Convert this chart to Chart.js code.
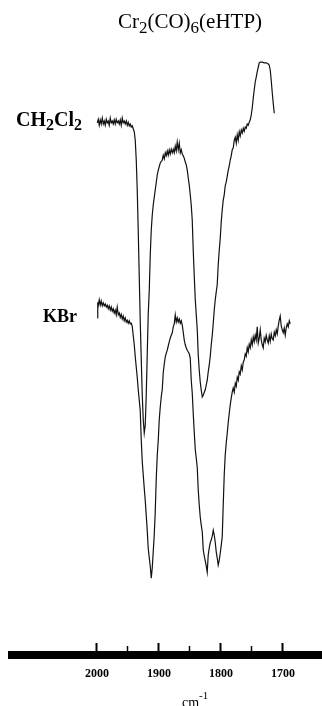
<!DOCTYPE html>
<html>
<head>
<meta charset="utf-8">
<title>Cr2(CO)6(eHTP) IR</title>
<script src="https://cdn.jsdelivr.net/npm/chart.js@4.4.1/dist/chart.umd.min.js"></script>
<style>
  html, body { margin: 0; padding: 0; background: #fff; }
  canvas { display: block; }
</style>
</head>
<body>
<canvas id="irChart" width="322" height="706"></canvas>
<script>
// wavenumber (cm-1) and relative transmittance
const ch2cl2Wavenumber = [1999.5, 1997.9, 1996.3, 1994.7, 1993.1, 1991.4, 1989.8, 1988.2, 1986.6, 1985.0, 1983.4, 1981.8, 1980.2, 1978.5, 1976.9, 1975.3, 1973.7, 1972.1, 1970.5, 1968.9, 1967.3, 1965.6, 1964.0, 1962.4, 1960.8, 1959.2, 1957.6, 1956.0, 1954.4, 1952.7, 1951.1, 1949.5, 1947.9, 1946.3, 1944.7, 1943.1, 1941.5, 1939.8, 1938.2, 1936.6, 1935.0, 1933.4, 1931.8, 1930.2, 1928.5, 1926.9, 1925.3, 1923.7, 1922.1, 1920.5, 1918.9, 1917.3, 1915.6, 1914.0, 1912.4, 1910.8, 1909.2, 1906.0, 1902.7, 1901.1, 1897.9, 1894.7, 1893.1, 1891.4, 1889.8, 1888.2, 1886.6, 1885.0, 1883.4, 1881.8, 1880.1, 1878.5, 1876.9, 1875.3, 1873.7, 1872.1, 1870.5, 1868.9, 1867.2, 1865.6, 1864.0, 1862.4, 1860.8, 1859.2, 1857.6, 1856.0, 1854.3, 1852.7, 1851.1, 1849.5, 1847.9, 1846.3, 1844.7, 1843.1, 1841.4, 1839.8, 1838.2, 1836.6, 1835.0, 1833.4, 1831.8, 1830.1, 1828.5, 1826.9, 1825.3, 1823.7, 1822.1, 1820.5, 1818.9, 1817.3, 1815.6, 1814.0, 1812.4, 1810.8, 1809.2, 1807.6, 1806.0, 1804.4, 1802.7, 1801.1, 1799.5, 1797.9, 1796.3, 1794.7, 1793.1, 1791.5, 1789.8, 1788.2, 1786.6, 1785.0, 1783.4, 1781.8, 1780.2, 1778.5, 1776.9, 1775.3, 1773.7, 1772.1, 1770.5, 1768.9, 1767.2, 1765.6, 1764.0, 1762.4, 1760.8, 1759.2, 1757.6, 1756.0, 1754.4, 1752.7, 1751.1, 1749.5, 1747.9, 1746.3, 1744.7, 1743.1, 1741.5, 1739.8, 1738.2, 1736.6, 1733.4, 1730.2, 1727.0, 1723.7, 1722.1, 1720.5, 1718.9, 1717.3, 1715.7, 1714.0];
const ch2cl2Signal = [88.7, 89.3, 88.3, 89.2, 88.5, 89.5, 88.5, 89.0, 88.3, 89.3, 88.7, 89.0, 88.3, 89.5, 88.7, 89.0, 88.5, 89.2, 88.5, 89.3, 88.7, 89.0, 88.5, 89.2, 88.3, 89.5, 88.7, 89.0, 88.5, 89.0, 88.3, 88.8, 88.2, 88.5, 88.0, 88.2, 87.7, 87.2, 85.8, 82.5, 77.5, 70.8, 63.3, 55.8, 49.2, 43.3, 39.2, 37.0, 38.3, 43.3, 50.0, 56.7, 60.8, 66.7, 70.8, 73.3, 75.0, 77.5, 80.0, 80.8, 82.0, 82.5, 83.3, 82.7, 83.7, 83.2, 84.0, 83.3, 84.2, 83.5, 84.3, 83.7, 84.3, 83.7, 84.8, 84.0, 85.5, 84.2, 85.3, 83.7, 84.2, 83.5, 83.2, 82.8, 82.2, 81.7, 80.8, 79.5, 78.3, 76.7, 75.0, 72.5, 67.5, 63.3, 59.2, 56.7, 54.2, 50.0, 47.5, 45.5, 44.2, 43.0, 43.3, 43.8, 44.2, 45.0, 45.8, 47.2, 48.3, 49.7, 51.7, 53.3, 55.3, 57.5, 59.2, 60.5, 61.7, 65.0, 67.5, 69.5, 72.2, 74.2, 75.8, 76.7, 78.2, 78.8, 79.8, 80.8, 81.5, 82.5, 83.2, 84.2, 84.5, 85.8, 86.3, 85.3, 86.7, 85.8, 87.2, 86.5, 87.5, 87.0, 87.8, 87.3, 88.0, 87.8, 88.5, 88.3, 88.8, 89.2, 90.0, 91.2, 92.8, 94.2, 95.5, 96.3, 97.2, 98.0, 98.7, 98.8, 98.8, 98.7, 98.7, 98.5, 98.3, 97.5, 95.8, 93.8, 92.0, 90.3];

const kbrWavenumber = [1999.5, 1998.7, 1997.9, 1996.3, 1994.7, 1993.1, 1991.4, 1989.8, 1988.2, 1986.6, 1985.0, 1983.4, 1981.8, 1980.2, 1978.5, 1976.9, 1975.3, 1973.7, 1972.1, 1970.5, 1968.9, 1967.3, 1965.6, 1964.0, 1962.4, 1960.8, 1959.2, 1957.6, 1956.0, 1954.4, 1952.7, 1951.1, 1949.5, 1947.9, 1946.3, 1944.7, 1943.1, 1941.5, 1939.8, 1938.2, 1936.6, 1935.0, 1933.4, 1931.8, 1930.2, 1928.5, 1926.9, 1925.3, 1923.7, 1922.1, 1920.5, 1918.9, 1917.3, 1915.6, 1914.0, 1912.4, 1910.8, 1909.2, 1907.6, 1906.0, 1904.3, 1902.7, 1901.1, 1899.5, 1897.9, 1896.3, 1894.7, 1893.1, 1891.4, 1889.8, 1888.2, 1886.6, 1885.0, 1883.4, 1881.8, 1880.1, 1878.5, 1876.9, 1875.3, 1873.7, 1872.1, 1870.5, 1868.9, 1867.2, 1865.6, 1864.0, 1862.4, 1860.8, 1859.2, 1857.6, 1856.0, 1854.3, 1852.7, 1851.1, 1849.5, 1847.9, 1846.3, 1844.7, 1843.1, 1841.4, 1839.8, 1838.2, 1836.6, 1835.0, 1833.4, 1831.8, 1830.1, 1828.5, 1826.9, 1825.3, 1823.7, 1822.1, 1820.5, 1818.9, 1817.3, 1815.6, 1814.0, 1812.4, 1810.8, 1809.2, 1807.6, 1806.0, 1804.4, 1802.7, 1801.1, 1799.5, 1797.9, 1796.3, 1794.7, 1793.1, 1791.5, 1789.8, 1788.2, 1786.6, 1785.0, 1783.4, 1781.8, 1780.2, 1778.5, 1776.9, 1775.3, 1773.7, 1772.1, 1770.5, 1768.9, 1767.2, 1765.6, 1764.0, 1762.4, 1760.8, 1759.2, 1757.6, 1756.0, 1754.4, 1752.7, 1751.1, 1749.5, 1747.9, 1746.3, 1744.7, 1743.1, 1741.5, 1739.8, 1738.2, 1736.6, 1735.0, 1733.4, 1731.8, 1730.2, 1728.6, 1727.0, 1725.3, 1723.7, 1722.1, 1720.5, 1718.9, 1717.3, 1715.7, 1714.0, 1712.4, 1710.8, 1709.2, 1707.6, 1706.0, 1704.4, 1702.7, 1701.1, 1699.5, 1697.9, 1696.3, 1694.7, 1693.1, 1691.4, 1689.8, 1688.2];
const kbrSignal = [56.2, 58.8, 58.2, 59.2, 58.3, 59.0, 58.2, 58.7, 58.2, 58.5, 58.0, 58.3, 57.7, 58.2, 57.5, 58.0, 57.3, 57.7, 57.0, 57.5, 56.7, 58.0, 56.7, 57.0, 56.3, 56.8, 56.0, 56.5, 55.7, 56.2, 55.5, 55.8, 55.3, 55.7, 55.2, 55.3, 54.8, 53.3, 51.7, 49.7, 48.0, 46.3, 44.2, 42.5, 40.8, 35.8, 32.2, 30.0, 27.8, 25.8, 23.3, 20.8, 17.8, 16.2, 14.8, 12.8, 14.5, 17.2, 20.0, 23.7, 29.5, 33.3, 35.8, 39.2, 41.3, 43.0, 44.2, 47.0, 48.5, 49.7, 50.3, 50.8, 51.5, 52.2, 52.8, 53.3, 53.7, 54.7, 55.2, 56.7, 55.5, 56.2, 55.5, 56.0, 55.3, 55.7, 55.0, 53.8, 52.5, 51.7, 51.2, 50.8, 50.5, 50.2, 49.5, 45.8, 43.7, 40.3, 37.2, 34.2, 32.8, 31.2, 27.5, 25.0, 23.0, 21.7, 20.5, 17.5, 16.5, 15.7, 14.8, 13.8, 16.7, 17.8, 18.7, 19.2, 19.8, 20.8, 20.0, 18.8, 17.2, 16.2, 15.0, 15.8, 17.0, 18.3, 19.7, 25.0, 30.0, 33.3, 35.3, 37.0, 38.8, 40.3, 41.7, 42.8, 43.8, 44.5, 43.8, 45.3, 44.8, 46.3, 45.8, 47.2, 46.8, 48.2, 47.5, 48.8, 49.2, 50.2, 49.8, 51.2, 50.5, 51.8, 51.2, 52.5, 51.7, 53.0, 52.2, 53.3, 52.5, 54.7, 52.0, 52.8, 54.2, 52.5, 51.7, 51.2, 52.8, 52.2, 53.3, 52.5, 52.0, 53.2, 52.3, 53.5, 52.7, 52.5, 53.8, 53.2, 54.2, 53.5, 54.8, 55.8, 56.5, 54.8, 54.2, 53.7, 54.5, 53.3, 54.5, 55.2, 54.7, 55.7, 55.2];

const tickValues = [2000, 1950, 1900, 1850, 1800, 1750, 1700];
const tickLabels = ['2000', '', '1900', '', '1800', '', '1700'];

const SERIF = '"Liberation Serif", "Times New Roman", serif';

function toPoints(xs, ys) {
    return xs.map((x, i) => ({ x: x, y: ys[i] }));
}

// draws text made of parts; shift > 0 lowers (subscript), < 0 raises (superscript)
function drawParts(ctx, parts, x, y, size, weight, align) {
    const fontFor = p => weight + ' ' + (p.shift ? Math.round(size * 0.82) : size) + 'px ' + SERIF;
    let total = 0;
    parts.forEach(p => { ctx.font = fontFor(p); total += ctx.measureText(p.t).width; });
    let cx = align === 'center' ? x - total / 2 : x;
    parts.forEach(p => {
        ctx.font = fontFor(p);
        ctx.fillText(p.t, cx, y + (p.shift || 0));
        cx += ctx.measureText(p.t).width;
    });
}

const textPlugin = {
    id: 'figureText',
    afterDraw(chart) {
        const ctx = chart.ctx;
        ctx.save();
        ctx.fillStyle = '#000';
        ctx.textBaseline = 'alphabetic';
        ctx.textAlign = 'left';
        drawParts(ctx, [{ t: 'Cr' }, { t: '2', shift: 5 }, { t: '(CO)' }, { t: '6', shift: 5 }, { t: '(eHTP)' }],
            190, 28, 21, 'normal', 'center');
        drawParts(ctx, [{ t: 'CH' }, { t: '2', shift: 4 }, { t: 'Cl' }, { t: '2', shift: 4 }], 16, 126, 20, 'bold', 'left');
        drawParts(ctx, [{ t: 'KBr' }], 43, 322, 18, 'bold', 'left');
        drawParts(ctx, [{ t: 'cm' }, { t: '-1', shift: -8 }], 182, 707, 14, 'normal', 'left');
        ctx.restore();
    }
};

const ctx = document.getElementById('irChart').getContext('2d');
const irChart = new Chart(ctx, {
    type: 'line',
    data: {
        datasets: [{
            label: 'CH2Cl2',
            data: toPoints(ch2cl2Wavenumber, ch2cl2Signal),
            borderColor: '#111',
            borderWidth: 1.2,
            pointRadius: 0,
            tension: 0
        }, {
            label: 'KBr',
            data: toPoints(kbrWavenumber, kbrSignal),
            borderColor: '#111',
            borderWidth: 1.2,
            pointRadius: 0,
            tension: 0
        }]
    },
    options: {
        responsive: false,
        animation: false,
        layout: {
            padding: { left: 12, right: 0, top: 55, bottom: 0 }
        },
        plugins: {
            legend: { display: false },
            tooltip: { enabled: false }
        },
        scales: {
            x: {
                type: 'linear',
                reverse: true,
                min: 1637,
                max: 2137,
                afterBuildTicks: function (scale) {
                    scale.ticks = tickValues.map(v => ({ value: v }));
                },
                afterFit: function (scale) {
                    scale.height = 51;
                },
                border: {
                    display: true,
                    color: '#000',
                    width: 8
                },
                grid: {
                    display: true,
                    drawOnChartArea: false,
                    drawTicks: true,
                    tickLength: -12,
                    tickColor: '#000',
                    tickWidth: c => (c.tick && c.tick.value % 100 === 0) ? 2 : 1.5,
                    tickBorderDash: c => (c.tick && c.tick.value % 100 === 0) ? [] : [13, 40]
                },
                ticks: {
                    padding: 24,
                    color: '#000',
                    maxRotation: 0,
                    autoSkip: false,
                    font: { family: SERIF, size: 12, weight: 'bold' },
                    callback: function (value, index) {
                        return tickLabels[index];
                    }
                }
            },
            y: {
                display: false,
                min: 0,
                max: 100
            }
        }
    },
    plugins: [textPlugin]
});
</script>
</body>
</html>
